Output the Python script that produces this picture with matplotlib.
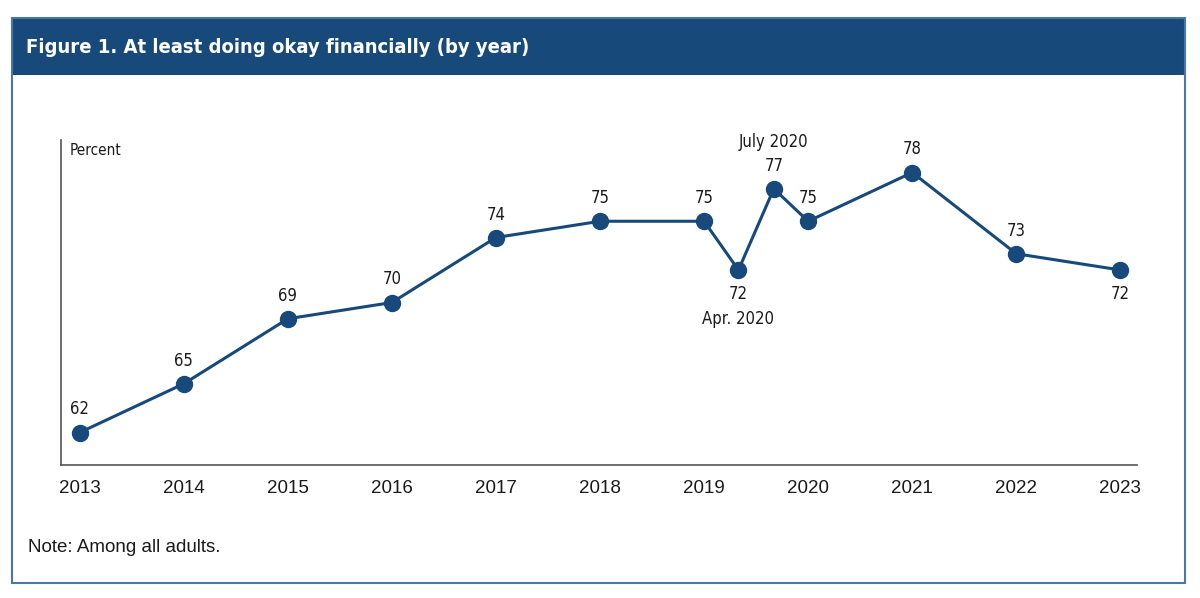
import matplotlib
matplotlib.use("Agg")
import matplotlib.pyplot as plt
from matplotlib.patches import Rectangle

# Data
x_pos = [2013, 2014, 2015, 2016, 2017, 2018, 2019, 2019.33, 2019.67, 2020, 2021, 2022, 2023]
values = [62, 65, 69, 70, 74, 75, 75, 72, 77, 75, 78, 73, 72]
label_below = [False, False, False, False, False, False, False, True, False, False, False, False, True]
tick_years = [2013, 2014, 2015, 2016, 2017, 2018, 2019, 2020, 2021, 2022, 2023]
tick_labels = [str(y) for y in tick_years]
extra_notes = {7: ("Apr. 2020", "below"), 8: ("July 2020", "above")}

W, H = 1200, 598
fig = plt.figure(figsize=(12, 5.98), dpi=100)
fig.patch.set_facecolor('white')

def fx(px):
    return px / W
def fy(py):
    return 1 - py / H

blue = '#174a7a'
border = '#4a78a6'
cond = dict(family='DejaVu Sans', stretch='condensed')

# header
fig.patches.append(Rectangle((fx(12), fy(75)), fx(1185) - fx(12), fy(18) - fy(75),
                             transform=fig.transFigure, facecolor=blue, edgecolor='none', zorder=0))
fig.patches.append(Rectangle((fx(12), fy(583)), fx(1185) - fx(12), fy(18) - fy(583),
                             transform=fig.transFigure, facecolor='none', edgecolor=border,
                             linewidth=1.5, zorder=1))
fig.text(fx(26), fy(47.5), "Figure 1. At least doing okay financially (by year)",
         color='white', fontsize=14.5, fontweight='bold', va='center', ha='left', **cond)
fig.text(fx(28), fy(547), "Note: Among all adults.", color='#1a1a1a', fontsize=13.5,
         family='Liberation Sans', va='center', ha='left')

ax = fig.add_axes([fx(61), fy(465), fx(1137) - fx(61), fy(140) - fy(465)])
ax.set_facecolor('none')
ax.plot(x_pos, values, color=blue, linewidth=2.2, marker='o', markersize=11.5, zorder=3)
ax.set_xlim(2012.82, 2023.16)
ax.set_ylim(60, 80)
ax.set_yticks([])
ax.set_xticks(tick_years)
ax.set_xticklabels(tick_labels, fontsize=13.5, family='Liberation Sans', color='#1a1a1a')
ax.tick_params(axis='x', length=0, pad=11)
for s in ['top', 'right']:
    ax.spines[s].set_visible(False)
for s in ['left', 'bottom']:
    ax.spines[s].set_color('#555555')
    ax.spines[s].set_linewidth(1.2)

for i, (xv, v) in enumerate(zip(x_pos, values)):
    off = -24 if label_below[i] else 23
    ax.annotate(str(v), (xv, v), xytext=(0, off * 0.72), textcoords='offset points',
                ha='center', va='center', fontsize=12, color='#1a1a1a', **cond)
for i, (txt, where) in extra_notes.items():
    off = -49 if where == 'below' else 47
    ax.annotate(txt, (x_pos[i], values[i]), xytext=(0, off * 0.72), textcoords='offset points',
                ha='center', va='center', fontsize=12, color='#1a1a1a', **cond)

ax.text(0.008, 0.99, "Percent", transform=ax.transAxes, ha='left', va='top',
        fontsize=11, color='#1a1a1a', **cond)

fig.savefig('out.png', dpi=100, facecolor='white')
